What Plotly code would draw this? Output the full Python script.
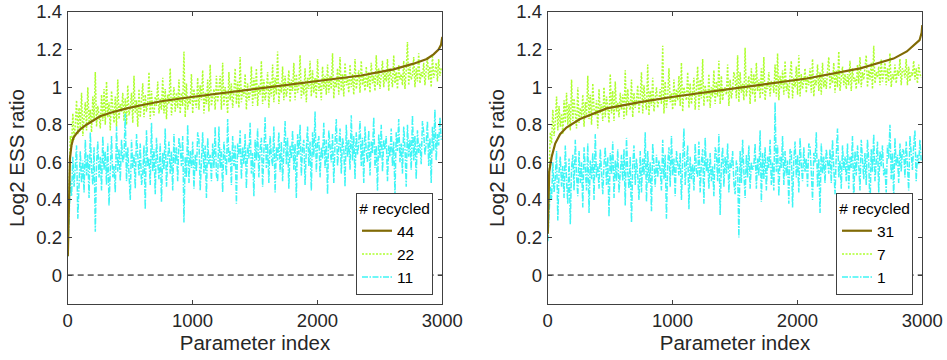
import plotly.graph_objects as go

# ---------------- data ----------------
idx = list(range(1, 3000, 10))  # parameter index positions of the noisy series (300 points)

# left panel: sorted line for "# recycled = 44" (read at key indices)
left_44_x = [1, 5, 10, 18, 30, 45, 72, 100, 150, 200, 260, 350, 473, 600, 750, 1006,
             1250, 1540, 1800, 2075, 2350, 2503, 2609, 2770, 2876, 2930, 2970, 2990, 3000]
left_44_y = [0.10, 0.25, 0.45, 0.62, 0.69, 0.73, 0.755, 0.775, 0.80, 0.82, 0.845, 0.865,
             0.887, 0.905, 0.925, 0.949, 0.97, 0.993, 1.015, 1.037, 1.062, 1.081, 1.095,
             1.125, 1.15, 1.175, 1.20, 1.225, 1.267]

left_22 = [
    0.20, 0.58, 0.74, 0.68, 0.86, 0.72, 0.80, 0.93, 0.75, 0.89, 0.78, 0.97, 0.74, 0.84, 0.92,
    0.77, 1.00, 0.81, 0.88, 0.76, 0.95, 0.83, 1.08, 0.79, 0.90, 0.85, 0.78, 0.96, 0.82, 0.99,
    0.80, 1.03, 0.84, 0.92, 0.77, 0.98, 0.86, 0.81, 0.95, 0.79, 1.04, 0.83, 0.91, 0.87, 0.97,
    0.82, 0.94, 0.80, 1.01, 0.85, 0.89, 0.97, 0.81, 1.06, 0.86, 0.93, 0.79, 0.99, 0.84, 0.92,
    1.02, 0.84, 0.96, 0.87, 0.91, 1.08, 0.83, 0.98, 0.88, 0.85, 0.95, 0.90, 1.03, 0.86, 0.94,
    0.88, 1.05, 0.86, 0.99, 0.83, 0.96, 0.91, 1.10, 0.85, 0.93, 1.00, 0.87, 0.97, 0.89, 1.04,
    0.86, 0.97, 0.90, 1.19, 0.84, 1.02, 0.88, 0.94, 0.91, 1.07, 0.86, 0.99, 0.92, 0.89, 1.05,
    0.88, 1.01, 0.93, 1.09, 0.86, 0.97, 0.91, 1.04, 0.87, 1.12, 0.90, 0.95, 0.99, 0.88, 1.06,
    0.92, 0.98, 1.06, 0.88, 1.13, 0.90, 1.00, 0.94, 0.86, 1.08, 0.93, 1.02, 0.89, 0.97, 1.10,
    0.91, 1.03, 0.89, 1.16, 0.92, 0.99, 0.95, 1.07, 0.88, 1.02, 0.93, 0.97, 1.11, 0.90, 1.05,
    0.94, 1.10, 0.90, 1.01, 0.96, 1.14, 0.91, 1.04, 0.93, 0.98, 1.08, 0.89, 1.03, 0.95, 1.12,
    0.92, 1.05, 0.96, 1.19, 0.91, 1.02, 0.97, 1.11, 0.93, 1.06, 0.95, 0.99, 1.09, 0.92, 1.04,
    0.98, 1.13, 0.93, 1.07, 0.97, 1.00, 1.17, 0.94, 1.03, 0.96, 1.10, 0.92, 1.05, 0.99, 1.14,
    0.95, 1.09, 0.97, 1.05, 0.94, 1.15, 0.98, 1.02, 0.93, 1.11, 0.99, 1.06, 0.96, 1.12, 0.97,
    1.06, 0.99, 1.18, 0.94, 1.04, 1.00, 1.10, 0.96, 1.16, 0.98, 1.07, 0.95, 1.13, 1.01, 1.05,
    0.97, 1.12, 1.00, 1.07, 0.96, 1.15, 0.99, 1.04, 1.09, 0.97, 1.14, 1.01, 1.06, 0.98, 1.11,
    1.00, 1.08, 0.97, 1.13, 1.02, 1.06, 0.98, 1.17, 1.01, 1.10, 0.99, 1.05, 1.14, 1.00, 1.08,
    1.03, 1.15, 0.98, 1.10, 1.05, 1.00, 1.17, 1.02, 1.08, 0.99, 1.12, 1.04, 1.07, 1.01, 1.14,
    0.99, 1.09, 1.24, 1.01, 1.11, 1.04, 1.06, 1.16, 1.00, 1.10, 1.03, 1.18, 1.02, 1.08, 1.05,
    1.13, 1.01, 1.09, 1.16, 1.04, 1.11, 1.00, 1.17, 1.05, 1.08, 1.13, 1.03, 1.15, 1.06, 1.10,
]

left_11 = [
    0.10, 0.36, 0.50, 0.42, 0.63, 0.47, 0.58, 0.69, 0.30, 0.55, 0.66, 0.49, 0.61, 0.44, 0.72,
    0.53, 0.64, 0.41, 0.76, 0.57, 0.48, 0.68, 0.23, 0.59, 0.71, 0.52, 0.63, 0.45, 0.74, 0.56,
    0.66, 0.48, 0.70, 0.37, 0.62, 0.74, 0.52, 0.58, 0.44, 0.79, 0.55, 0.67, 0.50, 0.72, 0.60,
    0.63, 0.86, 0.50, 0.68, 0.56, 0.40, 0.72, 0.57, 0.64, 0.46, 0.75, 0.61, 0.53, 0.70, 0.48,
    0.53, 0.69, 0.35, 0.77, 0.58, 0.62, 0.48, 0.81, 0.55, 0.67, 0.43, 0.73, 0.60, 0.51, 0.70,
    0.39, 0.65, 0.56, 0.78, 0.47, 0.62, 0.71, 0.54, 0.66, 0.45, 0.75, 0.59, 0.68, 0.50, 0.73,
    0.68, 0.58, 0.74, 0.28, 0.63, 0.52, 0.80, 0.49, 0.66, 0.57, 0.71, 0.46, 0.64, 0.55, 0.76,
    0.72, 0.45, 0.61, 0.76, 0.54, 0.69, 0.41, 0.73, 0.59, 0.64, 0.50, 0.70, 0.57, 0.79, 0.53,
    0.50, 0.79, 0.57, 0.67, 0.44, 0.71, 0.62, 0.53, 0.83, 0.60, 0.66, 0.48, 0.74, 0.58, 0.69,
    0.38, 0.70, 0.63, 0.77, 0.51, 0.68, 0.59, 0.75, 0.46, 0.69, 0.62, 0.81, 0.54, 0.65, 0.42,
    0.72, 0.61, 0.78, 0.52, 0.67, 0.73, 0.47, 0.64, 0.84, 0.57, 0.70, 0.49, 0.74, 0.63, 0.58,
    0.79, 0.44, 0.68, 0.61, 0.76, 0.55, 0.71, 0.50, 0.66, 0.82, 0.59, 0.73, 0.46, 0.69, 0.62,
    0.77, 0.56, 0.70, 0.41, 0.75, 0.64, 0.80, 0.53, 0.68, 0.72, 0.48, 0.67, 0.79, 0.58, 0.71,
    0.45, 0.76, 0.63, 0.87, 0.55, 0.70, 0.74, 0.52, 0.68, 0.62, 0.81, 0.57, 0.72, 0.43, 0.77,
    0.65, 0.60, 0.75, 0.49, 0.70, 0.83, 0.58, 0.66, 0.78, 0.54, 0.73, 0.68, 0.47, 0.80, 0.63,
    0.72, 0.56, 0.85, 0.61, 0.74, 0.51, 0.76, 0.64, 0.70, 0.82, 0.58, 0.73, 0.49, 0.79, 0.66,
    0.60, 0.77, 0.53, 0.71, 0.65, 0.84, 0.57, 0.69, 0.45, 0.75, 0.62, 0.80, 0.55, 0.72, 0.67,
    0.74, 0.50, 0.69, 0.63, 0.78, 0.58, 0.71, 0.42, 0.76, 0.66, 0.83, 0.60, 0.70, 0.54, 0.79,
    0.68, 0.47, 0.80, 0.63, 0.72, 0.56, 0.85, 0.61, 0.74, 0.51, 0.77, 0.65, 0.70, 0.59, 0.82,
    0.76, 0.64, 0.70, 0.82, 0.58, 0.73, 0.49, 0.79, 0.66, 0.88, 0.61, 0.75, 0.69, 0.84, 0.72,
]

# right panel: sorted line for "# recycled = 31"
right_31_x = [1, 5, 12, 32, 60, 99, 150, 259, 473, 740, 1006, 1540, 2075, 2503, 2609,
              2770, 2876, 2904, 2950, 2978, 2995, 3000]
right_31_y = [0.22, 0.40, 0.55, 0.63, 0.70, 0.75, 0.785, 0.83, 0.887, 0.92, 0.949, 0.998,
              1.046, 1.10, 1.12, 1.152, 1.19, 1.206, 1.23, 1.25, 1.29, 1.33]

right_7 = [
    0.30, 0.62, 0.76, 0.70, 0.88, 0.74, 0.82, 0.95, 0.77, 0.90, 0.79, 0.86, 0.75, 0.93, 0.81,
    0.97, 0.80, 0.91, 0.77, 1.04, 0.82, 0.94, 0.86, 0.78, 1.00, 0.81, 0.89, 0.84, 0.96, 0.79,
    0.92, 0.85, 1.06, 0.83, 0.96, 0.80, 1.02, 0.88, 0.85, 0.93, 0.78, 0.99, 0.86, 0.91, 0.82,
    1.00, 0.84, 0.95, 0.89, 0.81, 1.07, 0.86, 0.98, 0.82, 1.03, 0.87, 0.92, 0.84, 0.97, 0.88,
    0.96, 0.83, 1.09, 0.85, 0.99, 0.90, 0.88, 1.04, 0.84, 0.97, 0.89, 0.93, 1.01, 0.86, 0.95,
    1.08, 0.86, 1.01, 0.92, 0.88, 1.12, 0.85, 0.98, 0.90, 1.05, 0.87, 0.94, 1.00, 0.89, 0.96,
    0.99, 0.91, 1.22, 0.86, 1.03, 0.89, 0.95, 1.10, 0.92, 0.97, 0.88, 1.04, 0.90, 0.99, 0.93,
    1.06, 0.90, 1.13, 0.87, 1.00, 0.95, 0.93, 1.08, 0.89, 1.02, 0.91, 0.97, 1.05, 0.88, 0.99,
    1.11, 0.88, 1.04, 0.94, 1.15, 0.90, 1.01, 0.96, 0.92, 1.07, 0.89, 1.00, 0.95, 1.09, 0.91,
    1.03, 0.95, 1.14, 0.91, 1.06, 0.93, 0.98, 1.00, 0.96, 1.12, 0.90, 1.04, 0.94, 0.99, 1.08,
    1.05, 0.94, 1.17, 0.92, 1.08, 0.97, 1.02, 0.93, 1.21, 0.95, 1.00, 1.06, 0.91, 1.10, 0.96,
    1.07, 0.92, 1.13, 0.98, 1.04, 0.94, 1.10, 0.96, 1.16, 0.93, 1.01, 0.99, 1.08, 0.95, 1.03,
    1.03, 0.97, 1.12, 0.95, 1.18, 0.93, 1.06, 0.99, 1.09, 0.96, 1.14, 0.98, 1.02, 0.94, 1.07,
    1.14, 0.94, 1.05, 1.00, 1.11, 0.96, 1.17, 0.95, 1.07, 0.99, 1.03, 1.10, 0.97, 1.06, 1.01,
    1.10, 0.97, 1.15, 0.95, 1.04, 1.01, 1.12, 0.98, 1.08, 0.96, 1.13, 1.00, 1.05, 0.99, 1.09,
    1.16, 0.99, 1.06, 1.02, 1.13, 0.97, 1.09, 1.00, 1.19, 0.98, 1.04, 1.11, 1.01, 1.07, 0.99,
    1.07, 1.01, 1.14, 0.98, 1.10, 1.03, 1.05, 0.99, 1.12, 1.02, 1.16, 1.00, 1.08, 1.04, 1.11,
    1.17, 1.00, 1.09, 1.04, 1.13, 0.99, 1.22, 1.02, 1.08, 1.05, 1.11, 1.01, 1.15, 1.03, 1.07,
    1.14, 1.01, 1.10, 1.03, 1.18, 1.00, 1.07, 1.04, 1.12, 1.02, 1.09, 1.06, 1.15, 1.01, 1.10,
    1.09, 1.05, 1.15, 1.01, 1.11, 1.03, 1.08, 1.06, 1.14, 1.04, 1.10, 1.02, 1.12, 1.07, 1.05,
]

right_1 = [
    0.18, 0.34, 0.47, 0.40, 0.60, 0.44, 0.52, 0.66, 0.29, 0.55, 0.63, 0.47, 0.58, 0.41, 0.69,
    0.50, 0.38, 0.62, 0.27, 0.57, 0.64, 0.45, 0.72, 0.53, 0.42, 0.66, 0.49, 0.60, 0.36, 0.68,
    0.56, 0.45, 0.70, 0.33, 0.61, 0.51, 0.65, 0.40, 0.75, 0.52, 0.59, 0.46, 0.67, 0.55, 0.43,
    0.59, 0.68, 0.48, 0.63, 0.31, 0.65, 0.54, 0.71, 0.41, 0.61, 0.50, 0.67, 0.44, 0.58, 0.64,
    0.50, 0.67, 0.37, 0.73, 0.55, 0.46, 0.63, 0.28, 0.58, 0.69, 0.48, 0.62, 0.53, 0.40, 0.66,
    0.44, 0.62, 0.53, 0.76, 0.39, 0.66, 0.49, 0.60, 0.34, 0.70, 0.56, 0.47, 0.64, 0.52, 0.61,
    0.56, 0.45, 0.72, 0.51, 0.64, 0.30, 0.59, 0.68, 0.47, 0.74, 0.53, 0.62, 0.42, 0.66, 0.57,
    0.53, 0.65, 0.40, 0.61, 0.78, 0.48, 0.57, 0.69, 0.35, 0.63, 0.51, 0.59, 0.45, 0.70, 0.55,
    0.52, 0.71, 0.44, 0.60, 0.67, 0.38, 0.73, 0.55, 0.62, 0.46, 0.65, 0.50, 0.58, 0.42, 0.68,
    0.65, 0.50, 0.75, 0.32, 0.59, 0.68, 0.47, 0.63, 0.54, 0.70, 0.44, 0.61, 0.57, 0.66, 0.49,
    0.43, 0.61, 0.57, 0.20, 0.66, 0.49, 0.72, 0.55, 0.41, 0.64, 0.52, 0.69, 0.46, 0.60, 0.56,
    0.58, 0.70, 0.46, 0.62, 0.53, 0.77, 0.39, 0.65, 0.51, 0.68, 0.45, 0.63, 0.57, 0.72, 0.48,
    0.60, 0.45, 0.92, 0.55, 0.69, 0.42, 0.63, 0.57, 0.74, 0.48, 0.66, 0.53, 0.61, 0.38, 0.67,
    0.66, 0.36, 0.61, 0.71, 0.52, 0.64, 0.44, 0.73, 0.58, 0.50, 0.68, 0.55, 0.62, 0.47, 0.70,
    0.68, 0.55, 0.40, 0.65, 0.60, 0.76, 0.47, 0.62, 0.33, 0.70, 0.54, 0.63, 0.49, 0.67, 0.58,
    0.54, 0.67, 0.49, 0.72, 0.58, 0.43, 0.64, 0.78, 0.52, 0.61, 0.46, 0.69, 0.56, 0.63, 0.50,
    0.70, 0.46, 0.63, 0.57, 0.74, 0.38, 0.66, 0.53, 0.69, 0.59, 0.45, 0.72, 0.60, 0.51, 0.65,
    0.48, 0.72, 0.61, 0.35, 0.67, 0.55, 0.75, 0.50, 0.63, 0.71, 0.44, 0.66, 0.58, 0.69, 0.53,
    0.57, 0.44, 0.69, 0.62, 0.80, 0.51, 0.65, 0.41, 0.73, 0.58, 0.64, 0.49, 0.70, 0.55, 0.67,
    0.66, 0.52, 0.71, 0.60, 0.45, 0.74, 0.63, 0.56, 0.69, 0.77, 0.50, 0.64, 0.59, 0.72, 0.61,
]

zero_x = [0, 3000]
zero_y = [0, 0]

left_names = ["44", "22", "11"]
right_names = ["31", "7", "1"]
legend_title = "# recycled"
x_ticks = [0, 1000, 2000, 3000]
y_ticks = [0, 0.2, 0.4, 0.6, 0.8, 1.0, 1.2, 1.4]

# ---------------- style ----------------
OLIVE = "#806a05"
GREEN = "#adff2f"
CYAN = "#3ff5f5"
TXT = "#262626"
FONT = "Liberation Sans, Arial, Helvetica, sans-serif"

fig = go.Figure()

panels = [
    ("x", "y", "legend", left_44_x, left_44_y, left_22, left_11, left_names),
    ("x2", "y2", "legend2", right_31_x, right_31_y, right_7, right_1, right_names),
]
for xa, ya, lg, sx, sy, mid, low, names in panels:
    fig.add_trace(go.Scatter(x=zero_x, y=zero_y, mode="lines", xaxis=xa, yaxis=ya,
                             line=dict(color="black", width=1, dash="6px,4px"),
                             showlegend=False, hoverinfo="skip"))
    fig.add_trace(go.Scatter(x=idx, y=mid, mode="lines", name=names[1], xaxis=xa, yaxis=ya,
                             legend=lg, legendrank=2,
                             line=dict(color=GREEN, width=1.5, dash="2px,1.5px")))
    fig.add_trace(go.Scatter(x=idx, y=low, mode="lines", name=names[2], xaxis=xa, yaxis=ya,
                             legend=lg, legendrank=3,
                             line=dict(color=CYAN, width=1.5, dash="6px,1.5px,1.5px,1.5px")))
    fig.add_trace(go.Scatter(x=sx, y=sy, mode="lines", name=names[0], xaxis=xa, yaxis=ya,
                             legend=lg, legendrank=1,
                             line=dict(color=OLIVE, width=2.2)))

W, H = 947, 360
PLOT_TOP, PLOT_BOTTOM = 12, 304
PH = PLOT_BOTTOM - PLOT_TOP

axis_common = dict(
    showline=True, linecolor="#404040", linewidth=1, mirror="ticks",
    ticks="inside", ticklen=4, tickcolor="#404040", tickwidth=1,
    showgrid=False, zeroline=False, automargin=False, ticklabeloverflow="allow",
    tickfont=dict(size=18.5, color=TXT, family=FONT),
)
xcommon = dict(axis_common, range=[0, 3000], tickvals=x_ticks, ticklabelstandoff=0,
               title=dict(text="Parameter index", font=dict(size=20.5, color=TXT, family=FONT),
                          standoff=0))
ycommon = dict(axis_common, range=[-0.154, 1.4], tickvals=y_ticks, ticklabelstandoff=1,
               title=dict(text="Log2 ESS ratio", font=dict(size=20.5, color=TXT, family=FONT),
                          standoff=6))

leg_common = dict(
    bgcolor="white", bordercolor="#404040", borderwidth=1,
    font=dict(size=15.5, color="black", family=FONT),
    title=dict(text=legend_title, side="top right",
               font=dict(size=15.5, color="black", family=FONT)),
    xanchor="right", yanchor="bottom", itemwidth=30, tracegroupgap=0,
)

fig.update_layout(
    width=W, height=H,
    margin=dict(l=0, r=0, t=PLOT_TOP, b=H - PLOT_BOTTOM),
    paper_bgcolor="white", plot_bgcolor="white",
    font=dict(family=FONT, color=TXT),
    xaxis=dict(xcommon, domain=[67.7 / W, 442.3 / W], anchor="y"),
    yaxis=dict(ycommon, domain=[0, 1], anchor="x"),
    xaxis2=dict(xcommon, domain=[547.7 / W, 922.3 / W], anchor="y2"),
    yaxis2=dict(ycommon, domain=[0, 1], anchor="x2"),
    legend=dict(leg_common, x=433 / W, y=(PLOT_BOTTOM - 295) / PH),
    legend2=dict(leg_common, x=913 / W, y=(PLOT_BOTTOM - 295) / PH),
)

# remove the page's default 8 px body margin so the figure sits at the window origin
fig.write_html(
    "out.html",
    config={"displayModeBar": False},
    post_script="document.body.style.margin='0';document.body.style.overflow='hidden';",
)
